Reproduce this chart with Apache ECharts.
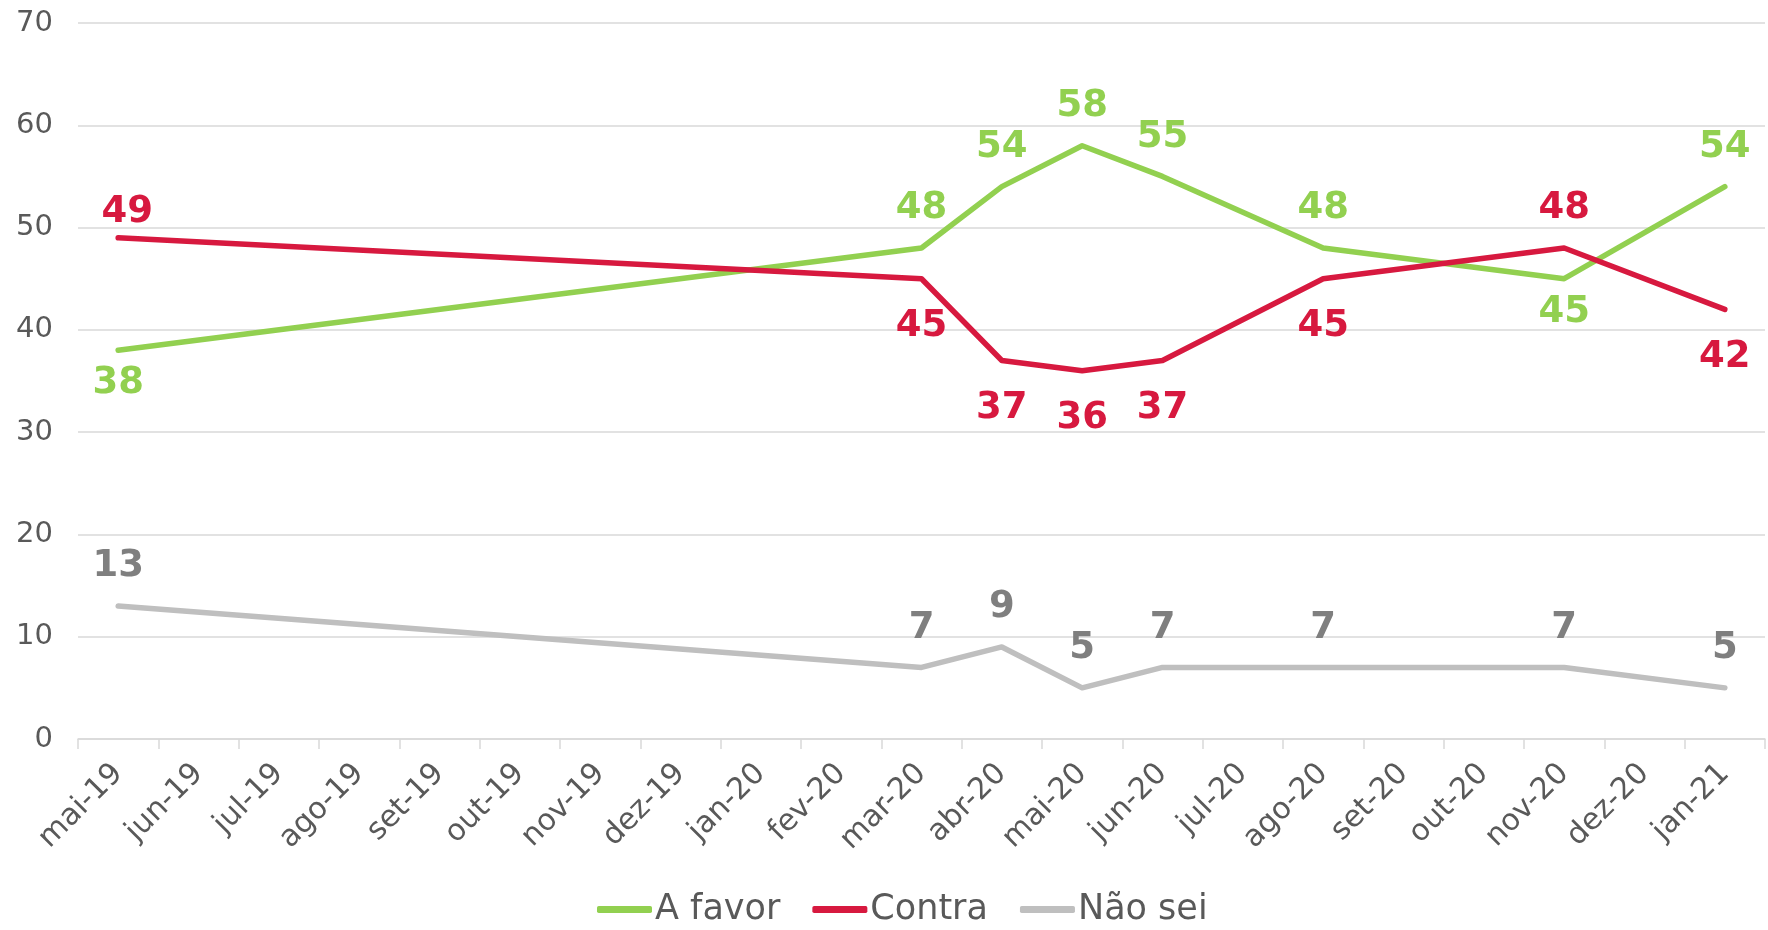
<!DOCTYPE html>
<html>
<head>
<meta charset="utf-8">
<script src="https://cdn.jsdelivr.net/npm/echarts@6/dist/echarts.min.js"></script>
<style>
html,body{margin:0;padding:0;background:#fff;}
#chart{width:1768px;height:930px;}
</style>
</head>
<body>
<div id="chart"></div>
<script>
const categories = ['mai-19','jun-19','jul-19','ago-19','set-19','out-19','nov-19','dez-19','jan-20','fev-20','mar-20','abr-20','mai-20','jun-20','jul-20','ago-20','set-20','out-20','nov-20','dez-20','jan-21'];
const aFavor = [38,null,null,null,null,null,null,null,null,null,48,54,58,55,null,48,null,null,45,null,54];
const contra = [49,null,null,null,null,null,null,null,null,null,45,37,36,37,null,45,null,null,48,null,42];
const naoSei = [13,null,null,null,null,null,null,null,null,null,7,9,5,7,null,7,null,null,7,null,5];
const yTicks = [0,10,20,30,40,50,60,70];

const FONT = 'DejaVu Sans';
const TXT = '#595959';

// label placement: indices shown below the line, and indices placed closer to the line
function build(values, below, near) {
  return values.map((v, i) => {
    if (v === null) return null;
    const isBelow = below.includes(i);
    const lab = { position: isBelow ? 'bottom' : 'top', distance: isBelow ? 29 : 21 };
    if (near.includes(i)) { lab.distance = isBelow ? 15 : 7; }
    return { value: v, label: lab };
  });
}

function series(name, values, color, labelColor, below, near) {
  return {
    name: name,
    type: 'line',
    data: build(values, below, near),
    connectNulls: true,
    showSymbol: true,
    symbol: 'circle',
    symbolSize: 0,
    lineStyle: { color: color, width: 5.5, cap: 'round', join: 'round' },
    itemStyle: { color: color },
    label: {
      show: true,
      color: labelColor,
      fontFamily: FONT,
      fontWeight: 'bold',
      fontSize: 37
    },
    emphasis: { disabled: true },
    animation: false
  };
}

const chart = echarts.init(document.getElementById('chart'));
const opt = {
  animation: false,
  grid: { left: 78, right: 3, top: 23, bottom: 191, containLabel: false },
  legend: {
    left: 592,
    top: 887,
    itemWidth: 55,
    itemHeight: 7,
    itemGap: 32,
    icon: 'roundRect',
    textStyle: { color: TXT, fontFamily: FONT, fontSize: 35, padding: [0, 0, 0, -2] },
    data: ['A favor', 'Contra', 'Não sei']
  },
  xAxis: {
    type: 'category',
    data: categories,
    boundaryGap: true,
    axisLine: { lineStyle: { color: '#D9D9D9', width: 1.5 } },
    axisTick: { show: true, length: 10, lineStyle: { color: '#D9D9D9', width: 1.5 } },
    axisLabel: { rotate: 45, interval: 0, color: TXT, fontFamily: FONT, fontSize: 30, margin: 30 }
  },
  yAxis: {
    type: 'value',
    min: yTicks[0],
    max: yTicks[yTicks.length - 1],
    interval: 10,
    axisLine: { show: false },
    axisTick: { show: false },
    splitLine: { lineStyle: { color: '#D9D9D9', width: 1.5 } },
    axisLabel: { color: TXT, fontFamily: FONT, fontSize: 29, margin: 25 }
  },
  series: [
    series('A favor', aFavor, '#92D050', '#92D050', [0, 18], [0, 18]),
    series('Contra', contra, '#D7193F', '#D7193F', [10, 11, 12, 13, 15, 20], [0]),
    series('Não sei', naoSei, '#BFBFBF', '#7F7F7F', [], [])
  ]
};
// first "Contra" label sits slightly right of its point
opt.series[1].data[0].label.offset = [9, 0];
chart.setOption(opt);
</script>
</body>
</html>
